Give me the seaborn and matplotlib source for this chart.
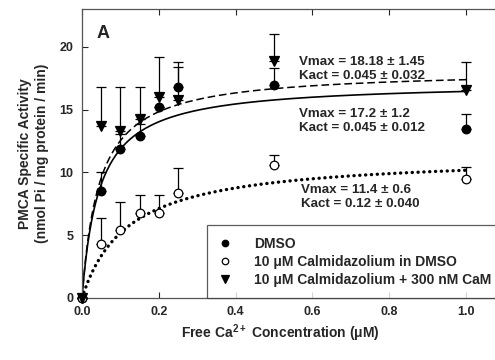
import numpy as np
import pandas as pd
import matplotlib
matplotlib.use("Agg")
import matplotlib.pyplot as plt
import seaborn as sns

# ---- data ----
ca = [0.0, 0.05, 0.1, 0.15, 0.2, 0.25, 0.5, 1.0]
dmso = [0.0, 8.5, 11.9, 12.9, 15.2, 16.8, 16.95, 13.5]
dmso_err = [0.0, 1.5, 1.2, 1.0, 0.0, 1.6, 1.35, 1.2]
cmz = [0.0, 4.3, 5.4, 6.75, 6.8, 8.4, 10.6, 9.5]
cmz_err = [0.0, 2.1, 2.25, 1.45, 1.4, 1.95, 0.8, 0.9]
cam = [0.0, 13.7, 13.3, 14.3, 16.0, 15.8, 18.9, 16.6]
cam_err = [0.0, 3.1, 3.5, 2.5, 3.2, 3.0, 2.1, 2.2]

# Michaelis-Menten fit parameters (from annotations)
fit_vmax = {"cam": 18.18, "dmso": 17.2, "cmz": 11.4}
fit_kact = {"cam": 0.045, "dmso": 0.045, "cmz": 0.12}
fit_text = {
    "cam": "Vmax = 18.18 ± 1.45\nKact = 0.045 ± 0.032",
    "dmso": "Vmax = 17.2 ± 1.2\nKact = 0.045 ± 0.012",
    "cmz": "Vmax = 11.4 ± 0.6\nKact = 0.12 ± 0.040",
}
labels = ["DMSO", "10 μM Calmidazolium in DMSO", "10 μM Calmidazolium + 300 nM CaM"]
xticks = [0.0, 0.2, 0.4, 0.6, 0.8, 1.0]
yticks = [0, 5, 10, 15, 20]

sns.set_theme(style="ticks")
plt.rcParams["font.family"] = ["Liberation Sans", "DejaVu Sans"]
plt.rcParams["font.weight"] = "bold"
plt.rcParams["mathtext.fontset"] = "custom"
plt.rcParams["mathtext.rm"] = "Liberation Sans:bold"
plt.rcParams["mathtext.bf"] = "Liberation Sans:bold"
plt.rcParams["mathtext.default"] = "bf"

fig = plt.figure(figsize=(4.95, 3.6), dpi=100)
ax = fig.add_axes([82 / 495, 62 / 360, 1 - 82 / 495, (298 - 9) / 360])

# fitted curves
xf = np.linspace(0, 1.0, 400)
curves = []
for key in ["dmso", "cam", "cmz"]:
    curves.append(pd.DataFrame({"x": xf, "y": fit_vmax[key] * xf / (fit_kact[key] + xf), "k": key}))
cdf = pd.concat(curves)
sns.lineplot(data=cdf[cdf.k == "dmso"], x="x", y="y", ax=ax, color="black", lw=1.2, legend=False)
sns.lineplot(data=cdf[cdf.k == "cam"], x="x", y="y", ax=ax, color="black", lw=1.1,
             legend=False).lines[-1].set_dashes((5, 2.5))
l3 = sns.lineplot(data=cdf[cdf.k == "cmz"], x="x", y="y", ax=ax, color="black", lw=2.4, legend=False).lines[-1]
l3.set_dashes((0.05, 1.7))
l3.set_dash_capstyle("round")

# error bars (upper only) and points
def pts(y, err, marker, face, label):
    ax.errorbar(ca, y, yerr=[np.zeros(len(err)), err], fmt="none", ecolor="black",
                elinewidth=0.9, capsize=3.5, capthick=0.9, clip_on=False, zorder=3)
    ax.plot(ca, y, linestyle="none", marker=marker, markersize=6.2 if marker == "o" else 6.8,
            markerfacecolor=face, markeredgecolor="black", markeredgewidth=0.9,
            clip_on=False, zorder=4, label=label)

pts(dmso, dmso_err, "o", "black", labels[0])
pts(cmz, cmz_err, "o", "white", labels[1])
pts(cam, cam_err, "v", "black", labels[2])

ax.set_xlim(0, (495 - 82) / 384)
ax.set_ylim(0, (298 - 9) / 12.55)
ax.set_xticks(xticks)
ax.set_xticklabels([f"{v:.1f}" for v in xticks])
ax.set_yticks(yticks)
ax.tick_params(direction="in", length=4, width=0.8, labelsize=9, top=True, pad=6)
for s in ["left", "bottom", "top"]:
    ax.spines[s].set_linewidth(0.9)
    ax.spines[s].set_color("#555555")
ax.spines["right"].set_visible(False)
for t in ax.get_xticklabels() + ax.get_yticklabels():
    t.set_fontweight("bold")

ax.set_xlabel("Free Ca$^{2+}$ Concentration (μM)", fontsize=10, fontweight="bold")
ax.xaxis.set_label_coords((280 - 82) / 413, -0.085)
ax.set_ylabel("PMCA Specific Activity\n(nmol Pi / mg protein / min)", fontsize=10,
              fontweight="bold", labelpad=8)

ax.text(0.055, 21.1, "A", fontsize=13, fontweight="bold", va="center", ha="center")
ax.text((299 - 82) / 384, 18.25, fit_text["cam"], fontsize=9.6, fontweight="bold",
        va="center", ha="left", linespacing=1.25)
ax.text((299 - 82) / 384, 14.1, fit_text["dmso"], fontsize=9.6, fontweight="bold",
        va="center", ha="left", linespacing=1.25)
ax.text((301 - 82) / 384, 8.05, fit_text["cmz"], fontsize=9.6, fontweight="bold",
        va="center", ha="left", linespacing=1.25)

leg = ax.legend(loc="lower left", bbox_to_anchor=((207 - 82) / 413, 0.0), borderaxespad=0,
                fancybox=False, frameon=True, edgecolor="#333333", fontsize=10,
                handlelength=1.0, handletextpad=1.6, borderpad=0.8, labelspacing=0.3,
                markerscale=0.75)
leg.get_frame().set_linewidth(0.9)
for t in leg.get_texts():
    t.set_fontweight("bold")

fig.savefig("out.png", dpi=100)
